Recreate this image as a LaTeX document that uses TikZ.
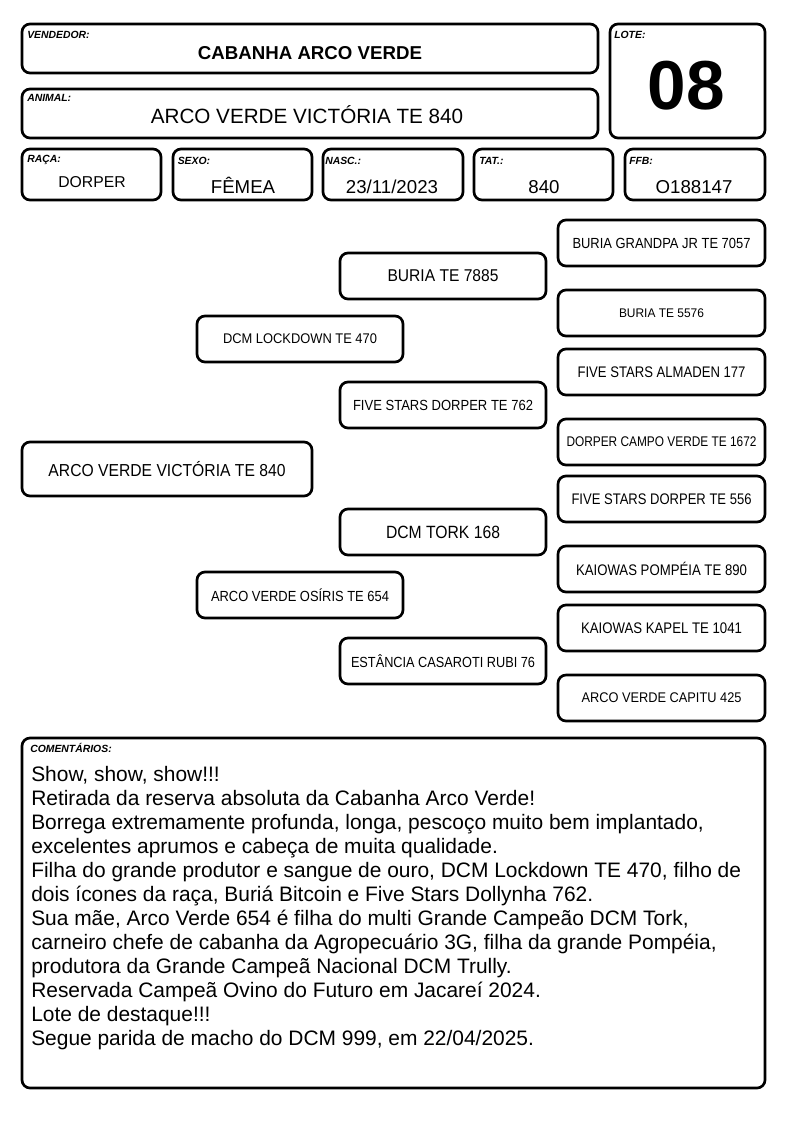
\documentclass[tikz,border=0pt]{standalone}
\usepackage{fontspec}
\setmainfont{Liberation Sans}
\usepackage{graphicx}
\newlength\pxu \setlength\pxu{0.75pt}
\newcommand\nt[3]{\resizebox{#1\pxu}{\height}{\fontsize{#2pt}{#2pt}\selectfont #3}}
\tikzset{
  box/.style={draw, line width=2pt, rounded corners=6pt, inner sep=0pt, fill=white},
  lbl/.style={inner sep=0pt, anchor=base west, font=\fontsize{7.8pt}{8pt}\selectfont\bfseries\itshape},
  val/.style={inner sep=0pt, anchor=base},
}
\newcommand\bx[6]{\node[box, minimum width={(#4-#2-2)*0.75pt}, minimum height={(#5-#3-2)*0.75pt}] (#1) at ({(#2+#4)/2},{(#3+#5)/2}) {#6};}
\begin{document}
\begin{tikzpicture}[x=0.75pt,y=-0.75pt]
\useasboundingbox[fill=white] (0,0) rectangle (794,1123);
% header boxes
\bx{vend}{21}{23}{599}{74}{}
\bx{anim}{21}{88}{599}{139}{}
\bx{lote}{609}{23}{766}{139}{}
\bx{raca}{21}{148}{162}{201}{}
\bx{sexo}{172}{148}{313}{201}{}
\bx{nasc}{322}{148}{464}{201}{}
\bx{tat}{473}{148}{614}{201}{}
\bx{ffb}{624}{148}{766}{201}{}
\bx{com}{21}{737}{766}{1089}{}
% labels
\node[lbl] (lvend) at (27,38.3) {VENDEDOR:};
\node[lbl] (lanim) at (27,102) {ANIMAL:};
\node[lbl] (llote) at (614,39) {LOTE:};
\node[lbl] (lraca) at (27,162.5) {RAÇA:};
\node[lbl] (lsexo) at (177.5,165) {SEXO:};
\node[lbl] (lnasc) at (325,165) {NASC.:};
\node[lbl] (ltat) at (479,165) {TAT.:};
\node[lbl] (lffb) at (629,165) {FFB:};
\node[lbl] (lcom) at (30,752.7) {COMENTÁRIOS:};
% values
\node[val, font=\fontsize{14pt}{14pt}\selectfont\bfseries] (vvend) at (310,60) {CABANHA ARCO VERDE};
\node[val, font=\fontsize{15.5pt}{15.5pt}\selectfont] (vanim) at (307,123.3) {ARCO VERDE VICTÓRIA TE 840};
\node[val, font=\fontsize{52pt}{52pt}\selectfont\bfseries] (vlote) at (686,110) {08};
\node[val, font=\fontsize{11.8pt}{12pt}\selectfont] (vraca) at (92,187.7) {DORPER};
\node[val, font=\fontsize{14pt}{14pt}\selectfont] (vsexo) at (243,193.3) {FÊMEA};
\node[val, font=\fontsize{14pt}{14pt}\selectfont] (vnasc) at (392,193.3) {23/11/2023};
\node[val, font=\fontsize{14pt}{14pt}\selectfont] (vtat) at (544,193.3) {840};
\node[val, font=\fontsize{14pt}{14pt}\selectfont] (vffb) at (694,193.3) {O188147};
% pedigree
\bx{p0}{21}{441}{313}{497}{\nt{237}{13}{ARCO VERDE VICTÓRIA TE 840}}
\bx{pf}{196}{315}{404}{363}{\nt{154}{10.5}{DCM LOCKDOWN TE 470}}
\bx{pm}{196}{571}{404}{619}{\nt{178}{11}{ARCO VERDE OSÍRIS TE 654}}
\bx{pff}{339}{252}{547}{300}{\nt{111}{12.8}{BURIA TE 7885}}
\bx{pfm}{339}{381}{547}{429}{\nt{180}{11}{FIVE STARS DORPER TE 762}}
\bx{pmf}{339}{508}{547}{556}{\nt{114}{13.3}{DCM TORK 168}}
\bx{pmm}{339}{637}{547}{685}{\nt{184}{11}{ESTÂNCIA CASAROTI RUBI 76}}
\bx{pfff}{557}{219}{766}{267}{\nt{178}{11}{BURIA GRANDPA JR TE 7057}}
\bx{pffm}{557}{289}{766}{337}{\nt{85}{9.4}{BURIA TE 5576}}
\bx{pfmf}{557}{348}{766}{396}{\nt{168}{11.5}{FIVE STARS ALMADEN 177}}
\bx{pfmm}{557}{418}{766}{466}{\nt{190}{10.5}{DORPER CAMPO VERDE TE 1672}}
\bx{pmff}{557}{475}{766}{523}{\nt{180}{11.5}{FIVE STARS DORPER TE 556}}
\bx{pmfm}{557}{545}{766}{593}{\nt{171}{11.5}{KAIOWAS POMPÉIA TE 890}}
\bx{pmmf}{557}{604}{766}{652}{\nt{161}{11.5}{KAIOWAS KAPEL TE 1041}}
\bx{pmmm}{557}{674}{766}{722}{\nt{160}{10.5}{ARCO VERDE CAPITU 425}}
% comments
\node[inner sep=0pt, anchor=north west, align=left, font=\fontsize{15.7pt}{18pt}\selectfont] (tcom) at (31,766) {Show, show, show!!!\\
Retirada da reserva absoluta da Cabanha Arco Verde!\\
Borrega extremamente profunda, longa, pescoço muito bem implantado,\\
excelentes aprumos e cabeça de muita qualidade.\\
Filha do grande produtor e sangue de ouro, DCM Lockdown TE 470, filho de\\
dois ícones da raça, Buriá Bitcoin e Five Stars Dollynha 762.\\
Sua mãe, Arco Verde 654 é filha do multi Grande Campeão DCM Tork,\\
carneiro chefe de cabanha da Agropecuário 3G, filha da grande Pompéia,\\
produtora da Grande Campeã Nacional DCM Trully.\\
Reservada Campeã Ovino do Futuro em Jacareí 2024.\\
Lote de destaque!!!\\
Segue parida de macho do DCM 999, em 22/04/2025.};
\end{tikzpicture}
\end{document}
